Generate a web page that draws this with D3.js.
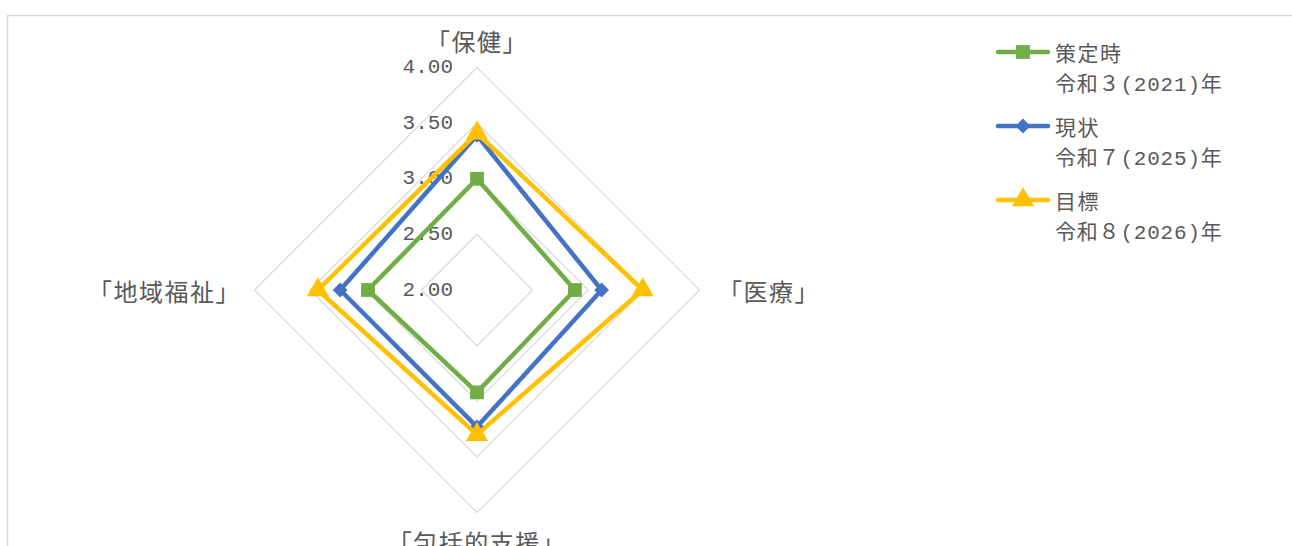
<!DOCTYPE html>
<html lang="ja">
<head>
<meta charset="utf-8">
<script src="https://cdn.jsdelivr.net/npm/d3@7"></script>
<style>
  html, body { margin: 0; padding: 0; background: #fff; }
  svg { display: block; }
  text { font-family: "Liberation Mono", "Noto Sans CJK JP", monospace; fill: #595959; }
  .cat { font-family: "Noto Sans CJK JP", sans-serif; }
</style>
</head>
<body>
<svg id="chart" width="1292" height="546"></svg>
<script>
// Axes of the radar, clockwise from the top
const categories = ["「保健」", "「医療」", "「包括的支援」", "「地域福祉」"];

// Scores per series, in category order
const seriesNames = ["策定時", "現状", "目標"];
const seriesYears = ["令和３(2021)年", "令和７(2025)年", "令和８(2026)年"];
const baselineValues = [3.00, 2.88, 2.92, 2.98];
const currentValues  = [3.39, 3.12, 3.23, 3.23];
const targetValues   = [3.41, 3.49, 3.30, 3.43];

const tickValues = [2.00, 2.50, 3.00, 3.50, 4.00];

const seriesColors = ["#70ad47", "#4472c4", "#ffc000"];
// marker shapes: square, diamond (rotated square), triangle
const seriesShapes = [d3.symbolSquare, d3.symbolSquare, d3.symbolTriangle];
const seriesRotate = [0, 45, 0];
const seriesSizes = [190, 110, 210];

const series = seriesNames.map((name, i) => ({
  name,
  year: seriesYears[i],
  values: [baselineValues, currentValues, targetValues][i],
  color: seriesColors[i],
  shape: seriesShapes[i],
  rotate: seriesRotate[i],
  size: seriesSizes[i]
}));

const svg = d3.select("#chart");

// chart frame
svg.append("rect")
  .attr("x", 7.5).attr("y", 15.5)
  .attr("width", 1300).attr("height", 560)
  .attr("fill", "none").attr("stroke", "#d9d9d9").attr("stroke-width", 1.5);

const cx = 477, cy = 290;
const r = d3.scaleLinear().domain([2, 4]).range([0, 222.5]);
const ang = i => i * 2 * Math.PI / categories.length;
const pt = (v, i) => [cx + r(v) * Math.sin(ang(i)), cy - r(v) * Math.cos(ang(i))];

const g = svg.append("g");

// grid rings
tickValues.slice(1).forEach(t => {
  g.append("path")
    .attr("d", d3.line()(categories.map((c, i) => pt(t, i))) + "Z")
    .attr("fill", "none").attr("stroke", "#d9d9d9").attr("stroke-width", 1.2);
});

// tick labels along the top axis
g.selectAll(".tick").data(tickValues).join("text")
  .attr("class", "tick")
  .attr("x", 453).attr("y", d => pt(d, 0)[1])
  .attr("text-anchor", "end").attr("dominant-baseline", "central")
  .attr("font-size", 21)
  .text(d => d.toFixed(2));

// category labels
const catPos = [
  { x: cx, y: 40, anchor: "middle" },
  { x: 718, y: cy, anchor: "start" },
  { x: cx, y: 541, anchor: "middle" },
  { x: 241, y: cy, anchor: "end" }
];
g.selectAll(".cat").data(categories).join("text")
  .attr("class", "cat")
  .attr("x", (d, i) => catPos[i].x).attr("y", (d, i) => catPos[i].y)
  .attr("text-anchor", (d, i) => catPos[i].anchor)
  .attr("dominant-baseline", "central")
  .attr("font-size", 24)
  .attr("letter-spacing", 1.5)
  .text(d => d);

// series polygons and markers
series.forEach(s => {
  const pts = s.values.map((v, i) => pt(v, i));
  g.append("path")
    .attr("d", d3.line()(pts) + "Z")
    .attr("fill", "none").attr("stroke", s.color)
    .attr("stroke-width", 4.5).attr("stroke-linejoin", "round");
  g.selectAll(null).data(pts).join("path")
    .attr("transform", d => `translate(${d[0]},${d[1]}) rotate(${s.rotate})`)
    .attr("d", d3.symbol().type(s.shape).size(s.size))
    .attr("fill", s.color);
});

// legend
const legend = svg.append("g");
const legendY = [52, 126, 200];
series.forEach((s, i) => {
  const y = legendY[i];
  legend.append("line")
    .attr("x1", 998).attr("x2", 1048).attr("y1", y).attr("y2", y)
    .attr("stroke", s.color).attr("stroke-width", 4.5).attr("stroke-linecap", "round");
  legend.append("path")
    .attr("transform", `translate(1023,${y}) rotate(${s.rotate})`)
    .attr("d", d3.symbol().type(s.shape).size(s.size))
    .attr("fill", s.color);
  legend.append("text")
    .attr("class", "cat")
    .attr("x", 1055).attr("y", y).attr("dominant-baseline", "central")
    .attr("font-size", 21).attr("letter-spacing", 1.5).text(s.name);
  legend.append("text")
    .attr("x", 1055).attr("y", y + 33).attr("dominant-baseline", "central")
    .attr("font-size", 21).attr("letter-spacing", 0.8).text(s.year);
});
</script>
</body>
</html>
